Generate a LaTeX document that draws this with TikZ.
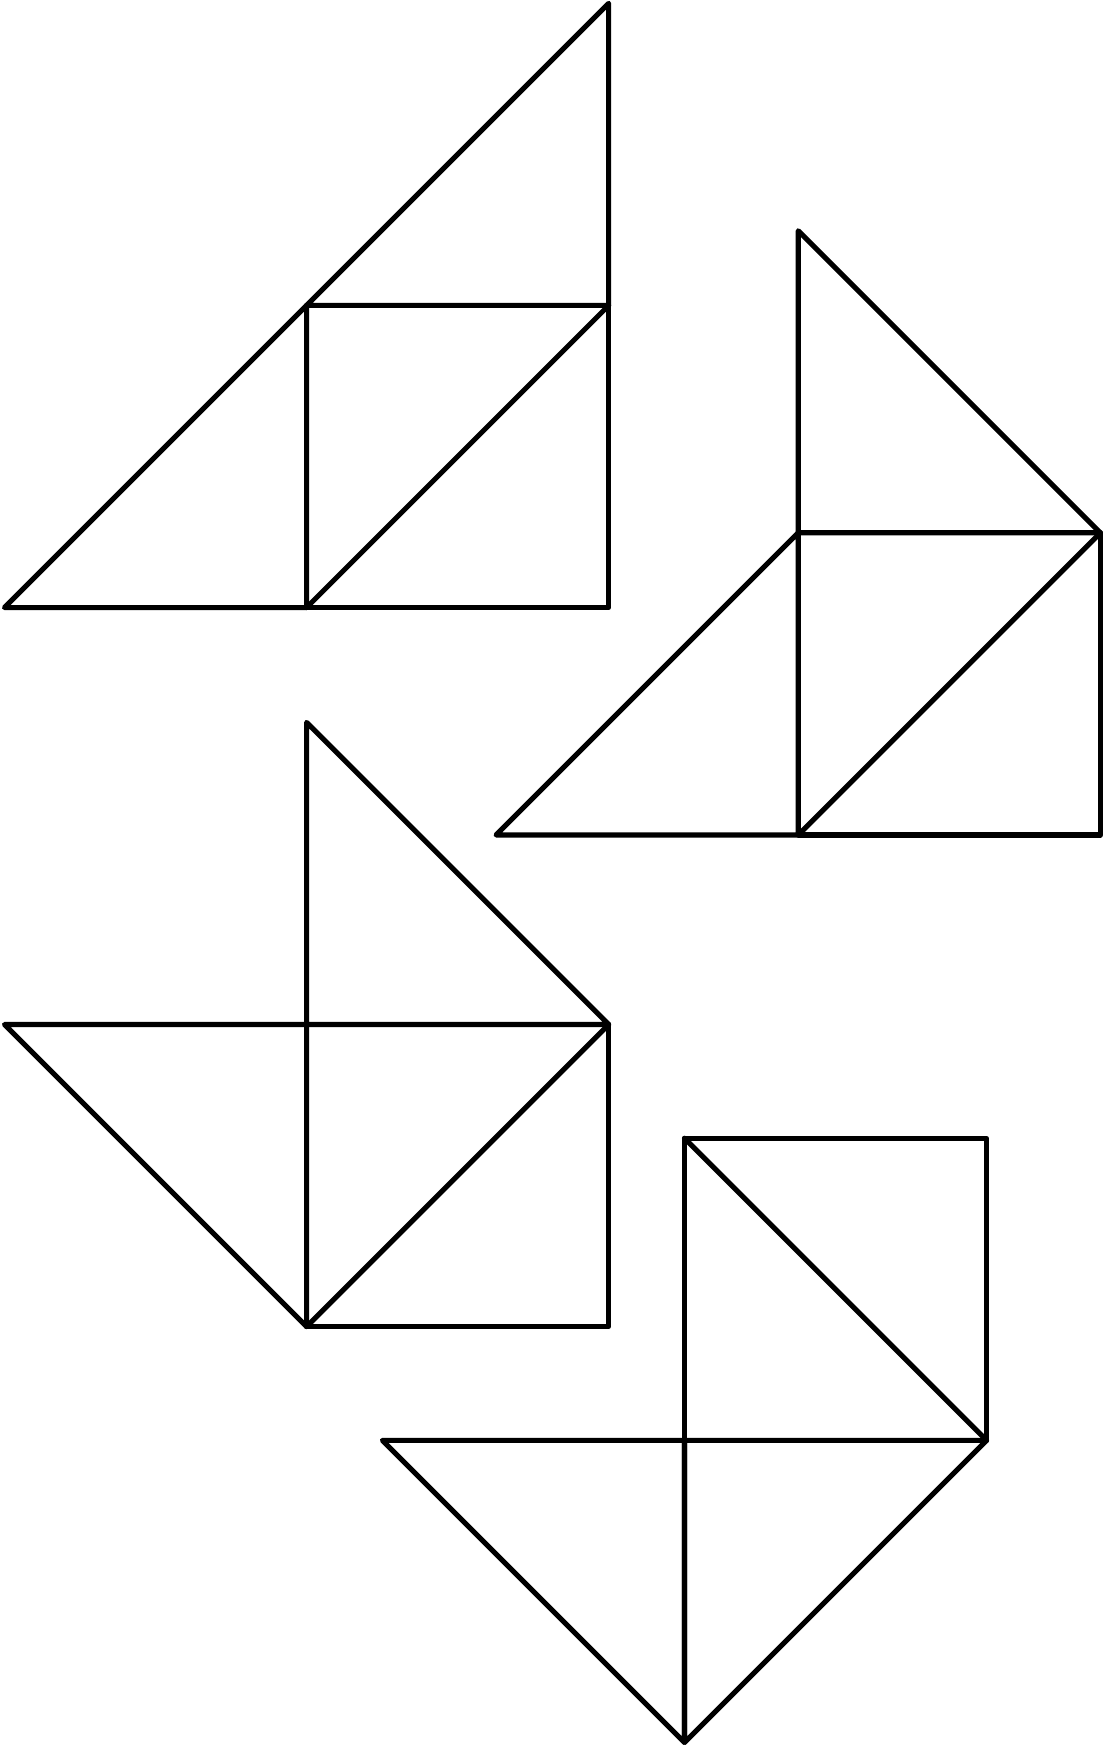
\documentclass[tikz,border=0pt]{standalone}
\usetikzlibrary{positioning}
\definecolor{ink}{HTML}{000000}
\tikzset{
  % --- pieces
  piece/.style = {draw=ink, line width=1.3pt, line join=round, line cap=round},
  fig/.style   = {x=2.71cm, y=2.71cm},
}
\begin{document}
\begin{tikzpicture}
  \useasboundingbox (0,0) rectangle (9.89,-15.68);
  % --- figure 1: big triangle
  \begin{scope}[fig, shift={(0.04cm,-5.45cm)}]
    \draw[piece] (0,0) -- (1,0) -- (1,1) -- cycle;
    \draw[piece] (1,0) -- (2,0) -- (2,1) -- (1,1) -- cycle;
    \draw[piece] (1,0) -- (2,1);
    \draw[piece] (1,1) -- (2,1) -- (2,2) -- cycle;
  \end{scope}
  % --- figure 2
  \begin{scope}[fig, shift={(4.45cm,-7.49cm)}]
    \draw[piece] (0,0) -- (1,0) -- (1,1) -- cycle;
    \draw[piece] (1,0) -- (2,0) -- (2,1) -- (1,1) -- cycle;
    \draw[piece] (1,0) -- (2,1);
    \draw[piece] (1,1) -- (1,2) -- (2,1) -- cycle;
  \end{scope}
  % --- figure 3
  \begin{scope}[fig, shift={(0.04cm,-11.90cm)}]
    \draw[piece] (0,1) -- (1,1) -- (1,0) -- cycle;
    \draw[piece] (1,0) -- (2,0) -- (2,1) -- (1,1) -- cycle;
    \draw[piece] (1,0) -- (2,1);
    \draw[piece] (1,1) -- (1,2) -- (2,1) -- cycle;
  \end{scope}
  % --- figure 4
  \begin{scope}[fig, shift={(3.43cm,-15.63cm)}]
    \draw[piece] (0,1) -- (1,1) -- (1,0) -- cycle;
    \draw[piece] (1,0) -- (2,1) -- (1,1) -- cycle;
    \draw[piece] (1,1) -- (2,1) -- (2,2) -- (1,2) -- cycle;
    \draw[piece] (1,2) -- (2,1);
  \end{scope}
\end{tikzpicture}
\end{document}
